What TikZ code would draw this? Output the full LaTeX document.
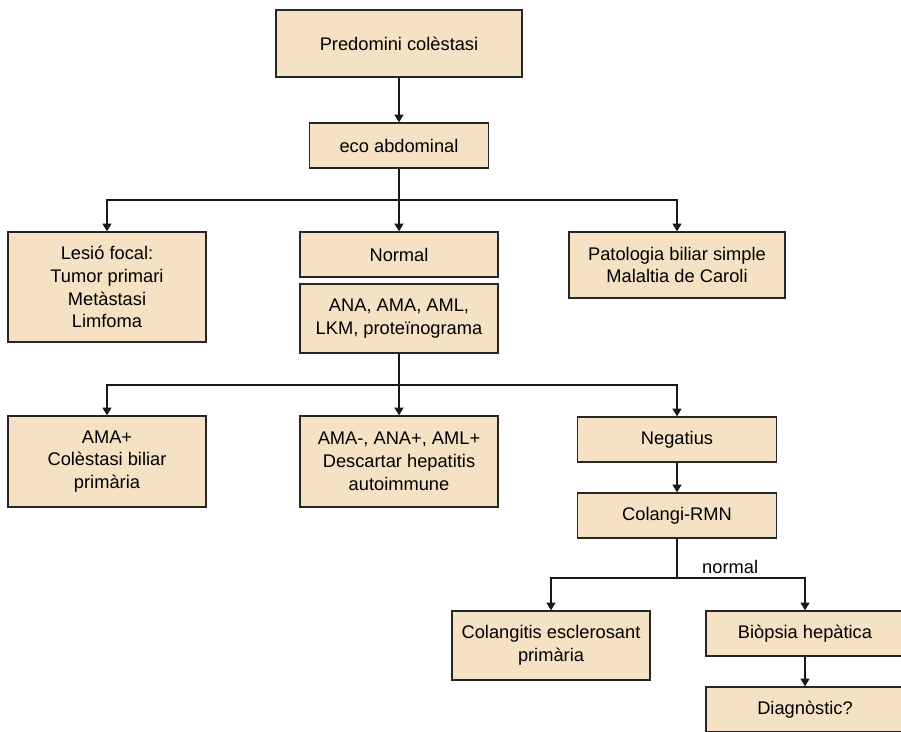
\documentclass[tikz,border=0pt]{standalone}
\usepackage{fontspec}
\setmainfont{Liberation Sans}
\usepackage{tikz}
\usetikzlibrary{arrows.meta,positioning}

\definecolor{boxfill}{RGB}{245,225,195}

\begin{document}
\begin{tikzpicture}[x=0.03cm,y=-0.03cm]
  \tikzstyle{box} = [rectangle,draw=black!85,line width=1.1pt,fill=boxfill,
    align=center,inner sep=2pt,font=\fontsize{15.6pt}{19.5pt}\selectfont]
  \tikzstyle{arr} = [draw=black!90,line width=1.15pt,-{Triangle[width=7.5pt,length=6.5pt]}]
  \tikzstyle{lin} = [draw=black!90,line width=1.15pt]

  \clip (0,0) rectangle (901,731);
  \fill[white] (0,0) rectangle (901,731);

  % top of the tree
  \node[box,minimum width=7.38cm,minimum height=2.01cm] (Root) at (399,43.5) {Predomini colèstasi};
  \node[box,minimum width=5.37cm,minimum height=1.35cm] (eco) at (399,145.5) {eco abdominal};

  % first level
  \node[box,minimum width=5.94cm,minimum height=3.30cm] (focal) at (107,287)
    {Lesió focal:\\Tumor primari\\Metàstasi\\Limfoma};
  \node[box,minimum width=5.94cm,minimum height=1.35cm] (normal) at (399,254.5) {Normal};
  \node[box,minimum width=5.94cm,minimum height=2.07cm] (anticos) at (399,318.5)
    {ANA, AMA, AML,\\LKM, proteïnograma};
  \node[box,minimum width=6.48cm,minimum height=1.98cm] (biliar) at (677,265)
    {Patologia biliar simple\\Malaltia de Caroli};

  % second level
  \node[box,minimum width=5.94cm,minimum height=2.73cm] (amapos) at (107,461.5)
    {AMA+\\Colèstasi biliar\\primària};
  \node[box,minimum width=5.94cm,minimum height=2.73cm] (amaneg) at (399,461.5)
    {AMA-, ANA+, AML+\\Descartar hepatitis\\autoimmune};
  \node[box,minimum width=5.97cm,minimum height=1.35cm] (neg) at (677,439.5) {Negatius};
  \node[box,minimum width=5.97cm,minimum height=1.35cm] (rmn) at (677,515.5) {Colangi-RMN};

  % third level
  \node[box,minimum width=5.94cm,minimum height=2.07cm] (colangitis) at (551,645.5)
    {Colangitis esclerosant\\primària};
  \node[box,minimum width=5.94cm,minimum height=1.35cm] (biopsia) at (805,633.5) {Biòpsia hepàtica};
  \node[box,minimum width=5.94cm,minimum height=1.35cm] (diag) at (805,709.5) {Diagnòstic?};

  % connectors
  \coordinate (b1) at (399,200);
  \coordinate (b2) at (399,385);
  \coordinate (b3) at (677,578);

  \draw[arr] (Root) -- (eco);
  \draw[lin] (eco) -- (b1);
  \draw[arr] (b1) -| (focal);
  \draw[arr] (b1) -- (normal);
  \draw[arr] (b1) -| (biliar);

  \draw[lin] (anticos) -- (b2);
  \draw[arr] (b2) -| (amapos);
  \draw[arr] (b2) -- (amaneg);
  \draw[arr] (b2) -| (neg);
  \draw[arr] (neg) -- (rmn);

  \draw[lin] (rmn) -- (b3);
  \draw[arr] (b3) -| (colangitis);
  \draw[arr] (b3) -| (biopsia);
  \draw[arr] (biopsia) -- (diag);

  \node[anchor=south west,inner sep=0pt,font=\fontsize{15.6pt}{19.5pt}\selectfont]
    (lnormal) at (702,574) {normal};
\end{tikzpicture}
\end{document}
